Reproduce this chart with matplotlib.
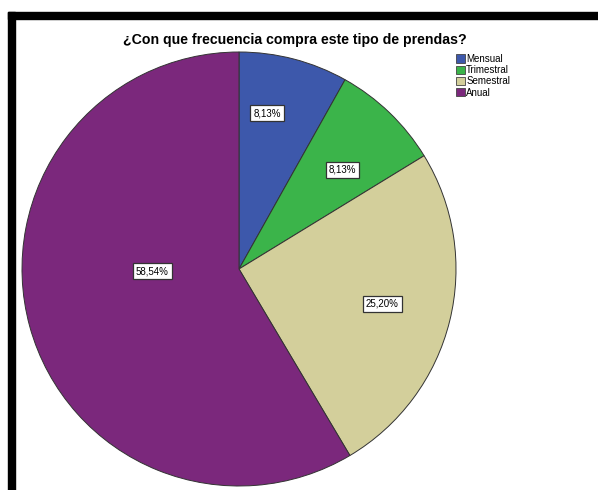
import matplotlib.pyplot as plt
import matplotlib.patches as mpatches
import numpy as np

plt.rcParams['font.family'] = ['Liberation Sans', 'DejaVu Sans']

categories = ["Mensual", "Trimestral", "Semestral", "Anual"]
percents = [8.13, 8.13, 25.20, 58.54]
pct_labels = ["8,13%", "8,13%", "25,20%", "58,54%"]
colors = ["#3d58ab", "#3bb44a", "#d3cf9b", "#7b287c"]
title = "¿Con que frecuencia compra este tipo de prendas?"

W, H = 598, 490
fig = plt.figure(figsize=(W / 100, H / 100), dpi=100)

# black frame bands at top and left (screenshot border)
fig.patches.append(mpatches.Rectangle((8 / W, 1 - 19 / H), 1, 7 / H, transform=fig.transFigure,
                                      color="black", zorder=0))
fig.patches.append(mpatches.Rectangle((8 / W, 0), 7 / W, 1 - 12 / H, transform=fig.transFigure,
                                      color="black", zorder=0))

# pie axes: centre ~ (239, 269) px, radius ~217 px
cx, cy, r = 239, 269, 217
ax = fig.add_axes([(cx - r) / W, (H - cy - r) / H, 2 * r / W, 2 * r / H])
wedges, _ = ax.pie(percents, colors=colors, startangle=90, counterclock=False,
                   wedgeprops=dict(edgecolor="#333333", linewidth=0.7))
ax.set_aspect("equal")
ax.set_xlim(-1, 1)
ax.set_ylim(-1, 1)

# label placement like SPSS: radial distance per slice and small angle tweak
label_r = [0.73, 0.66, 0.68, 0.40]
label_da = [4.4, -2.2, 0.2, -14.0]
for w, lab, lr, da in zip(wedges, pct_labels, label_r, label_da):
    ang = np.deg2rad((w.theta1 + w.theta2) / 2 + da)
    ax.text(lr * np.cos(ang), lr * np.sin(ang), lab, ha="center", va="center", fontsize=7,
            bbox=dict(boxstyle="square,pad=0.3", fc="white", ec="#333333", lw=0.9))

fig.text(295 / W, 1 - 40 / H, title, ha="center", va="center", fontsize=10.2, fontweight="bold")

handles = [mpatches.Patch(facecolor=c, edgecolor="#444444", linewidth=0.6) for c in colors]
fig.legend(handles, categories, loc="upper left", bbox_to_anchor=(456 / W, 1 - 54 / H),
           frameon=False, fontsize=7, handlelength=0.95, handleheight=0.95,
           handletextpad=0.1, labelspacing=0.12, borderaxespad=0, borderpad=0)

fig.savefig("out.png", dpi=100)
